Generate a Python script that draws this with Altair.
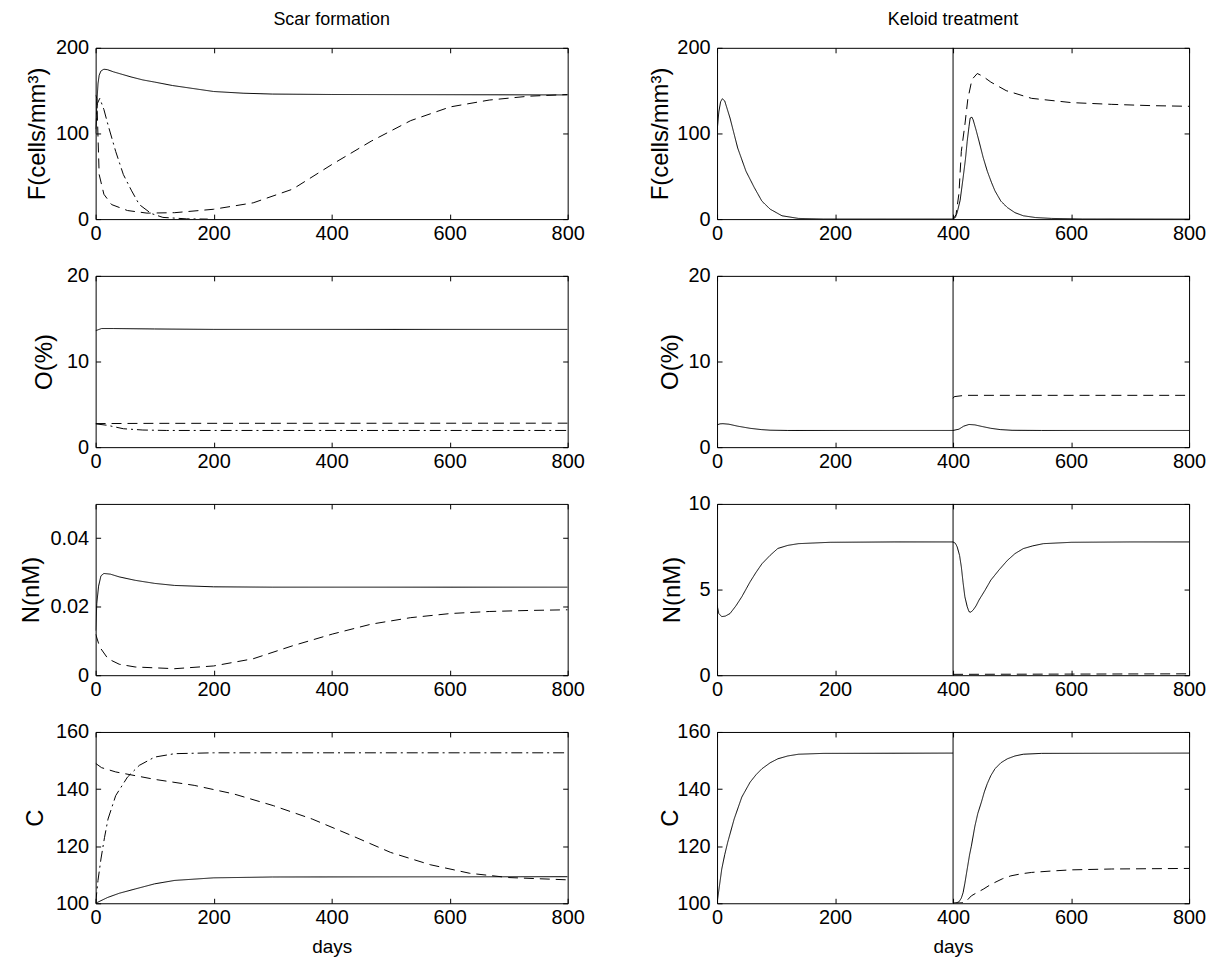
import altair as alt
import pandas as pd

FONT = "Liberation Sans"

# ---------------- data ----------------
col_titles = ["Scar formation", "Keloid treatment"]
x_ticks = [0, 200, 400, 600, 800]
x_title = "days"
treatment_day = [400]

row_titles = ["F(cells/mm\u00b3)", "O(%)", "N(nM)", "C"]
left_ydomains = [[0, 200], [0, 20], [0, 0.05], [100, 160]]
right_ydomains = [[0, 200], [0, 20], [0, 10], [100, 160]]
left_yticks = [[0, 100, 200], [0, 10, 20], [0, 0.02, 0.04], [100, 120, 140, 160]]
right_yticks = [[0, 100, 200], [0, 10, 20], [0, 5, 10], [100, 120, 140, 160]]

# --- Scar formation: F ---
scar_F_solid_x = [0, 2, 4, 6, 9, 14, 20, 30, 45, 60, 80, 100, 130, 160, 200, 250, 300, 400, 800]
scar_F_solid_y = [100, 135, 158, 168, 173, 175, 174.5, 172, 169, 166, 162.5, 160, 156, 153, 149, 147, 146, 145.5, 145]
scar_F_dash_x = [0, 2, 6, 14, 27, 54, 87, 134, 200, 267, 334, 401, 467, 534, 601, 667, 734, 800]
scar_F_dash_y = [145, 141, 52, 29, 17, 10, 7, 7.5, 11.5, 19, 35, 64, 91, 115, 131, 139, 143.5, 145.5]
scar_F_dashdot_x = [0, 3, 7, 14, 21, 34, 47, 61, 74, 94, 114, 154, 190]
scar_F_dashdot_y = [105, 135, 141, 128, 110, 79, 52, 33, 17, 6.6, 2, 0.3, 0]

# --- Scar formation: O ---
scar_O_solid_x = [0, 10, 30, 100, 200, 800]
scar_O_solid_y = [13.6, 13.85, 13.85, 13.8, 13.75, 13.75]
scar_O_dash_x = [0, 100, 800]
scar_O_dash_y = [2.75, 2.78, 2.8]
scar_O_dashdot_x = [0, 20, 47, 80, 120, 800]
scar_O_dashdot_y = [2.72, 2.55, 2.15, 2.0, 1.95, 1.95]

# --- Scar formation: N ---
scar_N_solid_x = [0, 2, 5, 9, 14, 25, 40, 67, 100, 134, 200, 300, 800]
scar_N_solid_y = [0.013, 0.021, 0.026, 0.029, 0.0297, 0.0295, 0.0287, 0.0277, 0.0268, 0.0262, 0.0258, 0.0257, 0.0257]
scar_N_dash_x = [0, 7, 21, 40, 67, 134, 200, 267, 334, 401, 467, 534, 601, 667, 734, 800]
scar_N_dash_y = [0.012, 0.0082, 0.0048, 0.0032, 0.0024, 0.0019, 0.0027, 0.0048, 0.0086, 0.012, 0.0149, 0.0168, 0.018, 0.0186, 0.0189, 0.0191]

# --- Scar formation: C ---
scar_C_solid_x = [0, 20, 40, 67, 100, 134, 200, 300, 800]
scar_C_solid_y = [100, 102, 103.5, 105, 106.8, 108, 108.9, 109.2, 109.3]
scar_C_dash_x = [0, 10, 34, 100, 167, 234, 301, 367, 434, 500, 567, 634, 700, 800]
scar_C_dash_y = [149, 147.5, 146, 143.4, 141.3, 138.3, 134.2, 129.5, 123.7, 117.8, 113.5, 110.5, 109, 108.2]
scar_C_dashdot_x = [0, 4, 9, 15, 21, 34, 54, 74, 100, 134, 200, 800]
scar_C_dashdot_y = [100, 108, 115.5, 123, 129.5, 137.7, 144.2, 148.3, 151.2, 152.4, 152.7, 152.7]

# --- Keloid treatment: F ---
kel_F_pre_x = [0, 3, 6, 9, 13, 22, 35, 49, 63, 76, 90, 110, 138, 180, 400]
kel_F_pre_y = [102, 125, 137, 140.5, 138, 118, 83, 56, 37, 21, 11.6, 3.9, 0.8, 0.1, 0]
kel_F_post_x = [400, 404, 407, 412, 417, 421, 424, 427, 429, 432, 434, 439, 444, 451, 458, 465, 471, 481, 492, 505, 519, 540, 567, 620, 800]
kel_F_post_y = [0, 2, 7.7, 22, 48, 70, 91, 108, 118, 119, 116, 104, 91, 72, 56, 43, 33, 21, 13.5, 7.5, 3.9, 1.8, 0.8, 0.1, 0]
kel_F_dash_x = [400, 405, 410, 414, 420, 425, 432, 441, 450, 464, 490, 533, 601, 669, 735, 800]
kel_F_dash_y = [0, 5, 30, 79, 110, 140, 163, 170, 167, 160, 150, 141, 136, 134, 132.5, 131.7]

# --- Keloid treatment: O ---
kel_O_pre_x = [0, 5, 10, 20, 35, 56, 75, 90, 120, 400]
kel_O_pre_y = [2.6, 2.72, 2.74, 2.68, 2.45, 2.2, 2.05, 1.98, 1.95, 1.95]
kel_O_post_x = [400, 410, 418, 427, 437, 450, 464, 480, 500, 550, 800]
kel_O_post_y = [1.95, 2.1, 2.45, 2.65, 2.6, 2.4, 2.2, 2.05, 1.97, 1.95, 1.95]
kel_O_dash_x = [400, 402, 420, 800]
kel_O_dash_y = [5.7, 5.9, 6.05, 6.05]

# --- Keloid treatment: N ---
kel_N_pre_x = [0, 3, 8, 14, 22, 32, 42, 56, 66, 76, 90, 103, 120, 138, 192, 300, 400]
kel_N_pre_y = [4.1, 3.6, 3.42, 3.45, 3.6, 4.05, 4.58, 5.45, 6.0, 6.5, 7.0, 7.4, 7.58, 7.68, 7.76, 7.78, 7.78]
kel_N_post_x = [400, 404, 407, 411, 414, 417, 420, 424, 427, 430, 434, 439, 444, 454, 464, 478, 492, 505, 519, 535, 553, 601, 700, 800]
kel_N_post_y = [7.78, 7.7, 7.49, 7.0, 6.33, 5.4, 4.58, 4.0, 3.71, 3.68, 3.8, 4.05, 4.39, 4.95, 5.55, 6.15, 6.7, 7.1, 7.39, 7.55, 7.68, 7.76, 7.78, 7.78]
kel_N_dash_x = [400, 800]
kel_N_dash_y = [0.05, 0.08]

# --- Keloid treatment: C ---
kel_C_pre_x = [0, 4, 8, 13, 18, 29, 42, 56, 66, 76, 90, 103, 120, 138, 180, 400]
kel_C_pre_y = [100, 106, 112, 117, 121.3, 129.5, 137.2, 142.4, 145, 147.1, 149.2, 150.6, 151.6, 152.2, 152.5, 152.6]
kel_C_post_x = [400, 405, 410, 414, 417, 420, 424, 428, 431, 437, 442, 448, 453, 458, 464, 471, 481, 492, 505, 519, 550, 800]
kel_C_post_y = [100, 100.1, 100.5, 101.8, 103.7, 107, 112, 117, 120, 127, 131.5, 135.4, 139, 141.9, 144.7, 147.1, 149.2, 150.6, 151.6, 152.2, 152.5, 152.6]
kel_C_dash_x = [400, 420, 431, 441, 451, 461, 471, 484, 498, 515, 533, 567, 601, 669, 735, 800]
kel_C_dash_y = [100, 100.2, 102.6, 103.8, 104.9, 106.2, 107.3, 108.6, 109.6, 110.3, 110.8, 111.3, 111.7, 112, 112.1, 112.2]

style_names = ["solid", "dashed", "dashdot"]
style_dashes = [[1, 0], [10, 6], [11, 4, 2, 4]]

left_curves = [
    [("solid", scar_F_solid_x, scar_F_solid_y), ("dashed", scar_F_dash_x, scar_F_dash_y), ("dashdot", scar_F_dashdot_x, scar_F_dashdot_y)],
    [("solid", scar_O_solid_x, scar_O_solid_y), ("dashed", scar_O_dash_x, scar_O_dash_y), ("dashdot", scar_O_dashdot_x, scar_O_dashdot_y)],
    [("solid", scar_N_solid_x, scar_N_solid_y), ("dashed", scar_N_dash_x, scar_N_dash_y)],
    [("solid", scar_C_solid_x, scar_C_solid_y), ("dashed", scar_C_dash_x, scar_C_dash_y), ("dashdot", scar_C_dashdot_x, scar_C_dashdot_y)],
]
right_curves = [
    [("solid", kel_F_pre_x, kel_F_pre_y), ("solid", kel_F_post_x, kel_F_post_y), ("dashed", kel_F_dash_x, kel_F_dash_y)],
    [("solid", kel_O_pre_x, kel_O_pre_y), ("solid", kel_O_post_x, kel_O_post_y), ("dashed", kel_O_dash_x, kel_O_dash_y)],
    [("solid", kel_N_pre_x, kel_N_pre_y), ("solid", kel_N_post_x, kel_N_post_y), ("dashed", kel_N_dash_x, kel_N_dash_y)],
    [("solid", kel_C_pre_x, kel_C_pre_y), ("solid", kel_C_post_x, kel_C_post_y), ("dashed", kel_C_dash_x, kel_C_dash_y)],
]

# ---------------- layout ----------------
W, H = 474, 172
TICK = 5
LABEL_FS = 20
YTITLE_FS = 24
XTITLE_FS = 19
TITLE_FS = 18
left_title_x = [-63, -56, -69, -65]
right_title_x = [-62, -52, -50, -52]


def make_panel(curves, ydom, yticks, ytitle, title_x, show_xtitle, top_title, treatment):
    rows = []
    i = 0
    for ci, (style, xs, ys) in enumerate(curves):
        for x, y in zip(xs, ys):
            rows.append({"x": x, "y": y, "style": style, "curve": f"c{ci}", "i": i})
            i += 1
    df = pd.DataFrame(rows)
    xscale = alt.Scale(domain=[0, 800], nice=False, zero=False)
    yscale = alt.Scale(domain=ydom, nice=False, zero=False)

    xaxis_kw = dict(orient="bottom", values=x_ticks, format="~r", domain=False, grid=False,
                    tickSize=TICK, offset=-TICK, labelPadding=4, labelFlush=False)
    if show_xtitle:
        xaxis_kw.update(title=x_title, titlePadding=10, titleFontSize=XTITLE_FS)
    else:
        xaxis_kw.update(title=None)

    yaxis = alt.Axis(orient="left", values=yticks, format="~r", domain=False, grid=False,
                     tickSize=TICK, offset=-TICK, labelPadding=7, labelFlush=False,
                     title=ytitle, titleAngle=270, titleBaseline="middle", titleAlign="center",
                     titleX=title_x, titleFontSize=YTITLE_FS)

    lines = alt.Chart(df).mark_line(color="black", strokeWidth=1, clip=True).encode(
        x=alt.X("x:Q", scale=xscale, axis=alt.Axis(**xaxis_kw)),
        y=alt.Y("y:Q", scale=yscale, axis=yaxis),
        strokeDash=alt.StrokeDash("style:N", scale=alt.Scale(domain=style_names, range=style_dashes), legend=None),
        detail="curve:N",
        order="i:Q",
    )
    frame = alt.Chart(df).mark_line(opacity=0).encode(
        x=alt.X("x:Q", scale=xscale, axis=alt.Axis(orient="top", values=x_ticks, labels=False, domain=False,
                                                   grid=False, tickSize=TICK, offset=-TICK, title=None)),
        y=alt.Y("y:Q", scale=yscale, axis=alt.Axis(orient="right", values=yticks, labels=False, domain=False,
                                                   grid=False, tickSize=TICK, offset=-TICK, title=None)),
        detail="curve:N",
    )
    layers = [lines, frame]
    if treatment:
        rdf = pd.DataFrame({"x": treatment_day, "y": [ydom[0]], "y2": [ydom[1]]})
        rule = alt.Chart(rdf).mark_rule(color="black", strokeWidth=1).encode(
            x=alt.X("x:Q", scale=xscale, axis=None),
            y=alt.Y("y:Q", scale=yscale, axis=None),
            y2="y2:Q",
        )
        layers.append(rule)
    ch = alt.layer(*layers).resolve_axis(x="independent", y="independent")
    props = dict(width=W, height=H)
    if top_title:
        props["title"] = alt.TitleParams(text=top_title, fontSize=TITLE_FS, font=FONT, fontWeight="normal",
                                         anchor="middle", offset=9, color="black")
    return ch.properties(**props)


panels = []
for r in range(4):
    panels.append(make_panel(left_curves[r], left_ydomains[r], left_yticks[r], row_titles[r], left_title_x[r],
                             r == 3, col_titles[0] if r == 0 else None, False))
    panels.append(make_panel(right_curves[r], right_ydomains[r], right_yticks[r], row_titles[r], right_title_x[r],
                             r == 3, col_titles[1] if r == 0 else None, True))

chart = alt.concat(*panels, columns=2, spacing=alt.RowColnumber(row=57, column=150), bounds="flush").properties(
    padding={"left": 11, "top": 0, "right": 0, "bottom": 2}
).configure_view(stroke="black", strokeWidth=1).configure_axis(
    labelFont=FONT, labelFontSize=LABEL_FS, labelColor="black",
    titleFont=FONT, titleColor="black", titleFontWeight="normal",
    tickColor="black", tickWidth=1,
).configure_title(font=FONT, fontSize=TITLE_FS, fontWeight="normal", color="black")

chart.save("out.html", embed_options={"renderer": "svg", "actions": False})
